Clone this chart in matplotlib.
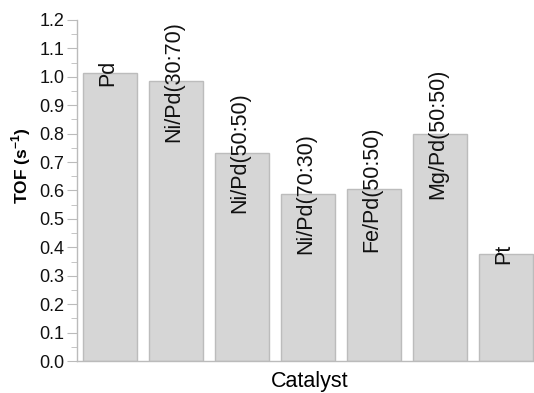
import numpy as np
import matplotlib
matplotlib.use("Agg")
from matplotlib import pyplot as plt
from matplotlib.ticker import MultipleLocator

plt.rcParams['font.family'] = ['Liberation Sans', 'DejaVu Sans']
plt.rcParams['mathtext.fontset'] = 'custom'
plt.rcParams['mathtext.bf'] = 'Liberation Sans:bold'
plt.rcParams['mathtext.rm'] = 'Liberation Sans'

catalysts = ["Pd", "Ni/Pd(30:70)", "Ni/Pd(50:50)", "Ni/Pd(70:30)",
             "Fe/Pd(50:50)", "Mg/Pd(50:50)", "Pt"]
tof = [1.013, 0.985, 0.732, 0.588, 0.605, 0.800, 0.376]

fig = plt.figure(figsize=(5.34, 3.93), dpi=100)
ax = fig.add_axes([77 / 534, (393 - 361) / 393, 1 - 77 / 534, (361 - 20) / 393])

x = np.arange(len(catalysts))
ax.bar(x, tof, width=0.82, color="#d6d6d6", edgecolor="#bcbcbc", linewidth=1)

for xi, name, val in zip(x, catalysts, tof):
    ax.text(xi - 0.04, val, name, rotation=90, ha="center", va="center",
            fontsize=15.5, color="#111111")

ax.set_xlim(-0.5, 6.42)
ax.set_ylim(0, 1.2)
ax.yaxis.set_major_locator(MultipleLocator(0.1))
ax.yaxis.set_minor_locator(MultipleLocator(0.05))
ax.set_yticklabels([f"{v:.1f}" for v in ax.get_yticks()])
ax.set_xticks([])

for side in ["top", "right"]:
    ax.spines[side].set_visible(False)
for side in ["left", "bottom"]:
    ax.spines[side].set_color("#bbbbbb")
    ax.spines[side].set_linewidth(1)

ax.tick_params(axis="y", which="major", length=7, color="#bbbbbb",
               labelsize=13, labelcolor="#111111", pad=2)
ax.tick_params(axis="y", which="minor", length=4, color="#bbbbbb")

ax.set_ylabel("TOF (s$^{\\mathbf{-1}}$)", fontsize=12.5, fontweight="bold")
ax.yaxis.set_label_coords(-0.096, 0.572)
ax.set_xlabel("Catalyst", fontsize=15.5)
ax.xaxis.set_label_coords(0.51, -0.03)

fig.savefig("out.png", dpi=100)
